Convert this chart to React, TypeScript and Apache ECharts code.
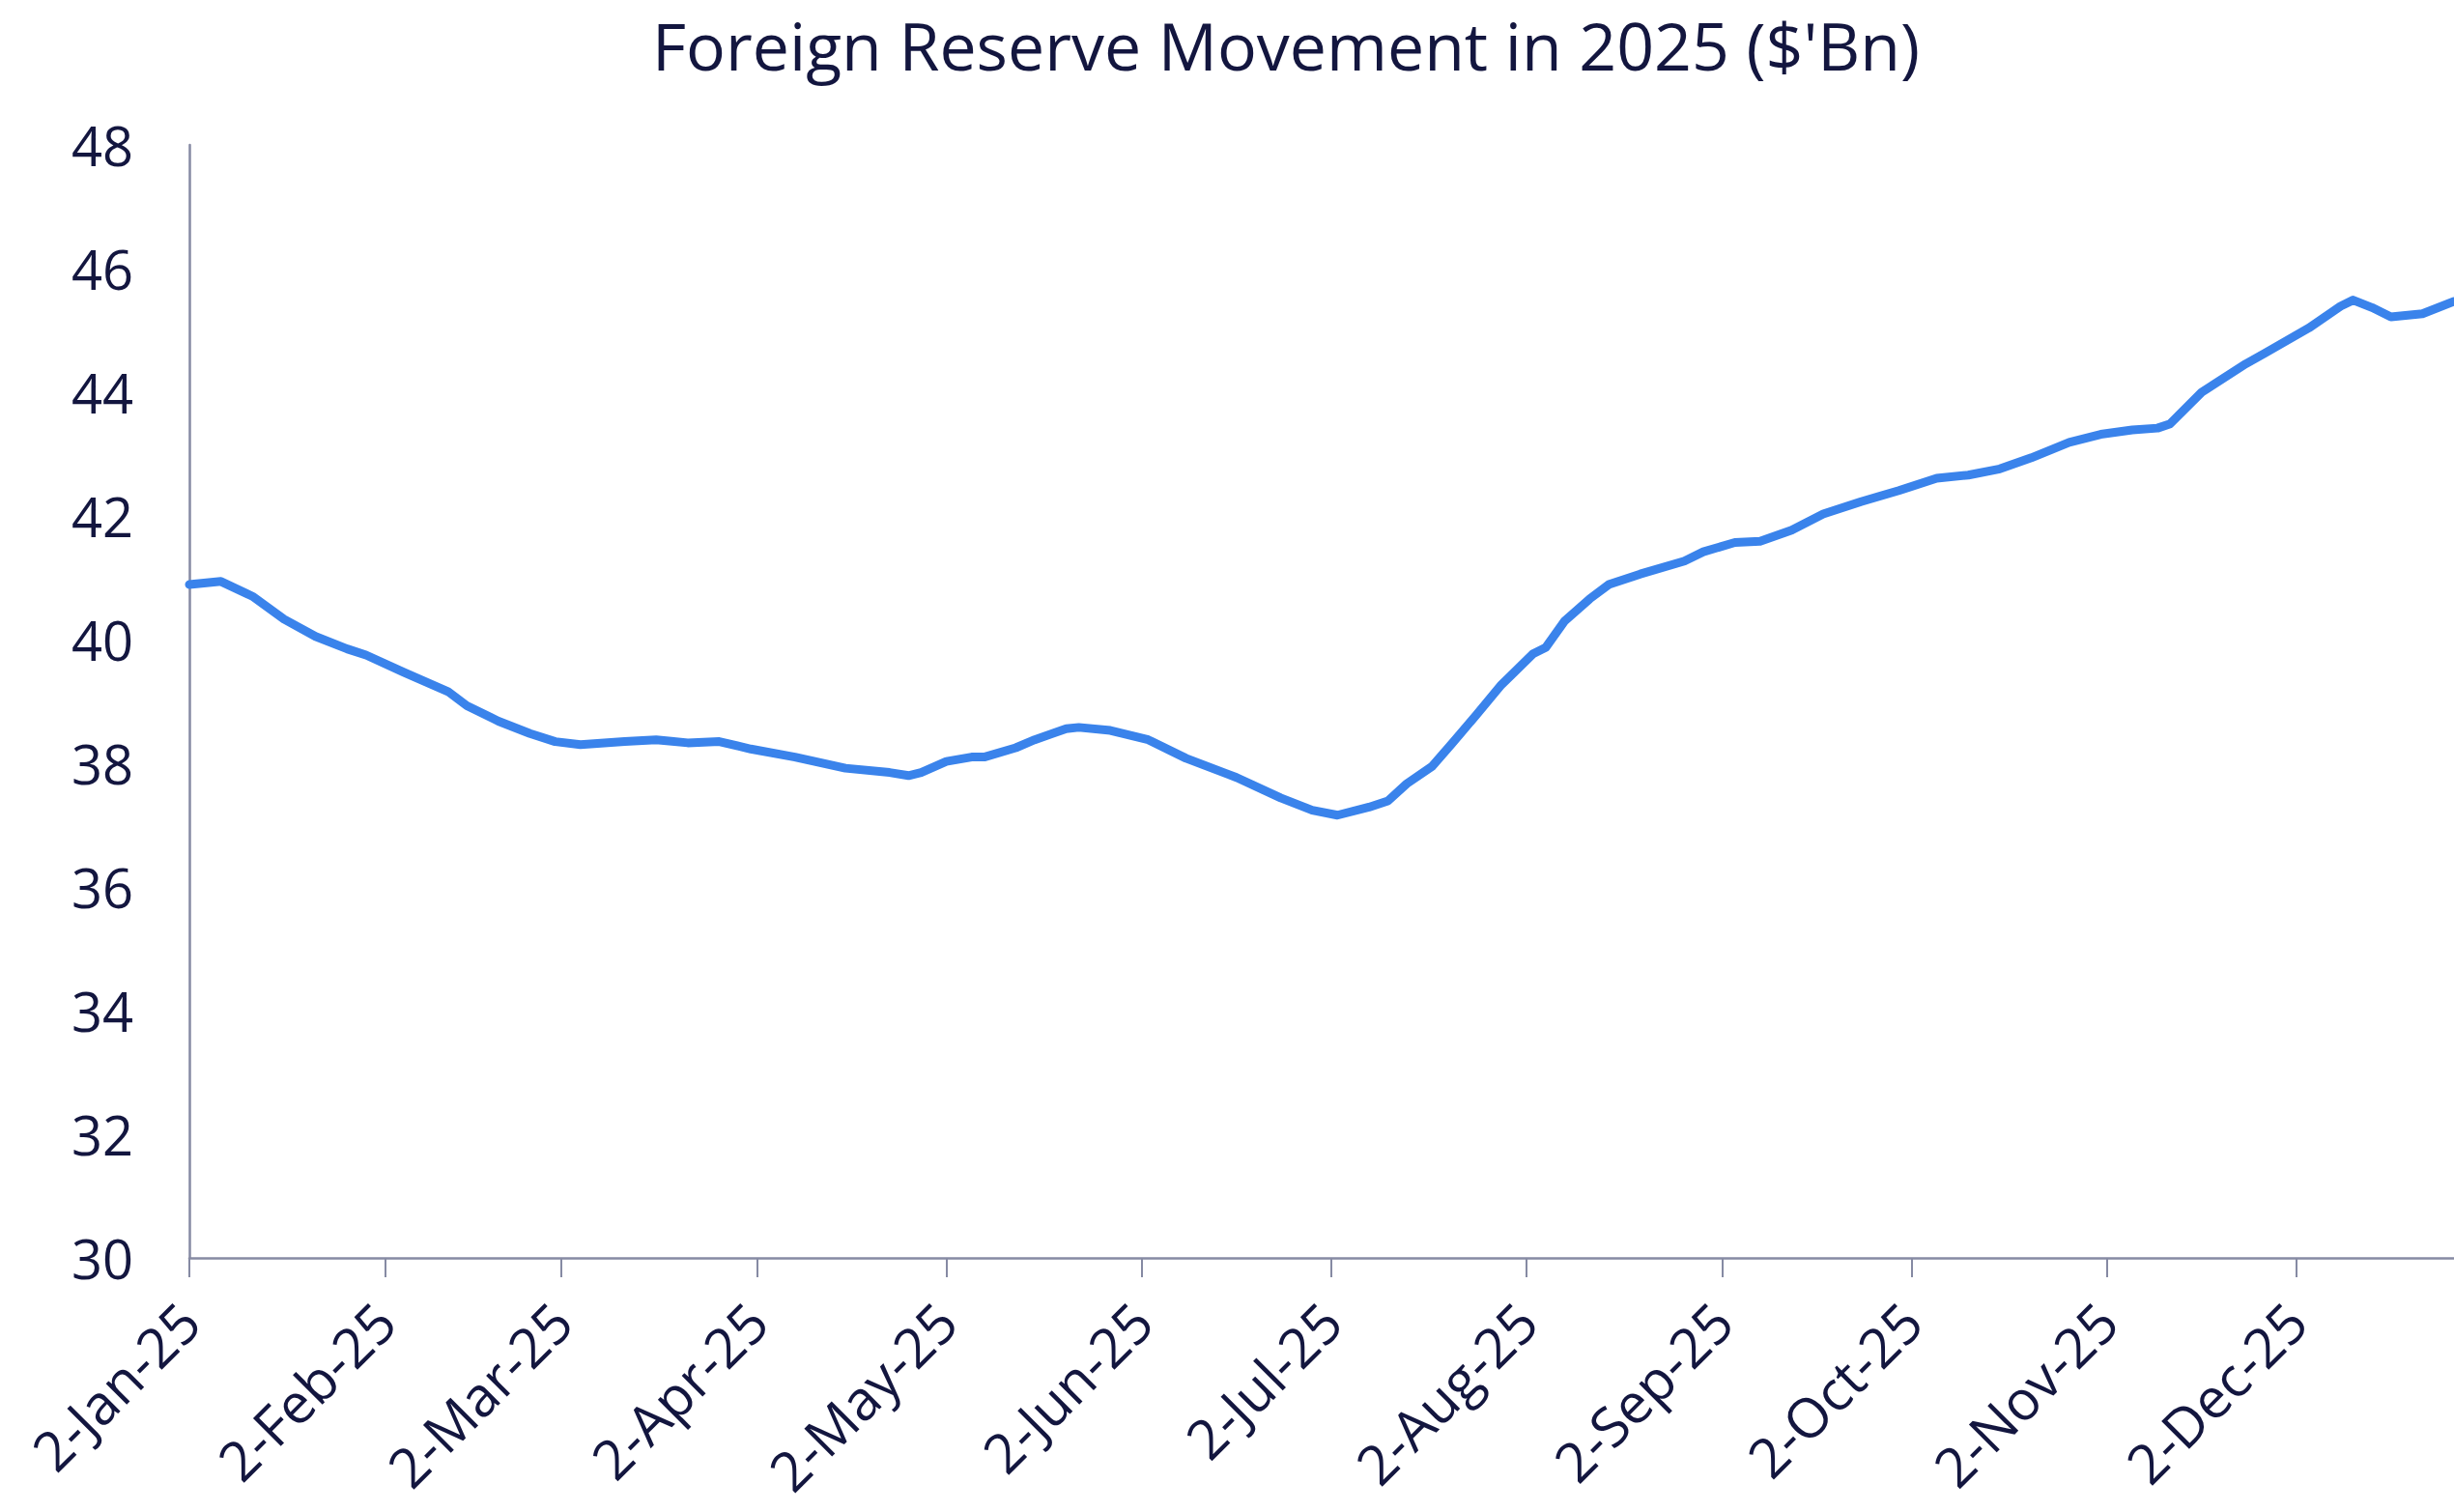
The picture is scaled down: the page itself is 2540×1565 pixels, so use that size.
import React, { useEffect, useRef } from "react";
import * as echarts from "echarts";

const titleText = "Foreign Reserve Movement in 2025 ($'Bn)";

const dates = [
  "2025-01-02", "2025-01-07", "2025-01-12", "2025-01-17", "2025-01-22", "2025-01-27", "2025-01-30",
  "2025-02-05", "2025-02-12", "2025-02-15", "2025-02-20", "2025-02-25", "2025-03-01", "2025-03-05",
  "2025-03-12", "2025-03-17", "2025-03-22", "2025-03-27", "2025-04-01", "2025-04-08", "2025-04-16",
  "2025-04-23", "2025-04-26", "2025-04-28", "2025-05-02", "2025-05-06", "2025-05-08", "2025-05-13",
  "2025-05-16", "2025-05-21", "2025-05-23", "2025-05-28", "2025-06-03", "2025-06-09", "2025-06-17",
  "2025-06-24", "2025-06-29", "2025-07-03", "2025-07-08", "2025-07-11", "2025-07-14", "2025-07-18",
  "2025-07-21", "2025-07-25", "2025-07-29", "2025-07-31", "2025-08-03", "2025-08-05", "2025-08-08",
  "2025-08-12", "2025-08-15", "2025-08-20", "2025-08-27", "2025-08-30", "2025-09-04", "2025-09-08",
  "2025-09-13", "2025-09-18", "2025-09-24", "2025-09-30", "2025-10-06", "2025-10-11", "2025-10-16",
  "2025-10-21", "2025-10-27", "2025-11-01", "2025-11-06", "2025-11-10", "2025-11-12", "2025-11-17",
  "2025-11-24", "2025-11-27", "2025-12-04", "2025-12-09", "2025-12-11", "2025-12-14", "2025-12-17",
  "2025-12-22", "2025-12-27",
];

const reserves = [
  40.89, 40.94, 40.7, 40.33, 40.05, 39.85, 39.75,
  39.47, 39.16, 38.93, 38.68, 38.48, 38.35, 38.3,
  38.35, 38.38, 38.33, 38.35, 38.23, 38.1, 37.92,
  37.85, 37.8, 37.85, 38.03, 38.1, 38.1, 38.25,
  38.38, 38.56, 38.58, 38.53, 38.38, 38.08, 37.77,
  37.44, 37.24, 37.16, 37.29, 37.39, 37.67, 37.95,
  38.3, 38.78, 39.27, 39.47, 39.77, 39.87, 40.3,
  40.66, 40.89, 41.06, 41.27, 41.42, 41.57, 41.59,
  41.77, 42.03, 42.23, 42.41, 42.61, 42.66, 42.76,
  42.94, 43.19, 43.32, 43.39, 43.42, 43.49, 44.0,
  44.46, 44.63, 45.04, 45.39, 45.49, 45.37, 45.22,
  45.27, 45.47,
];

const tickDates = [
  "2025-01-02", "2025-02-02", "2025-03-02", "2025-04-02", "2025-05-02", "2025-06-02",
  "2025-07-02", "2025-08-02", "2025-09-02", "2025-10-02", "2025-11-02", "2025-12-02",
];

const monthNames = ["Jan", "Feb", "Mar", "Apr", "May", "Jun", "Jul", "Aug", "Sep", "Oct", "Nov", "Dec"];

const xStart = "2025-01-02";
const xEnd = "2025-12-27";
const yMin = 30;
const yMax = 48;
const yStep = 2;

const toTs = (d: string) => Date.parse(d + "T00:00:00Z");

const textColor = "#13163F";
const axisColor = "#868AA3";
const lineColor = "#3A83EB";
const fontFamily = "'Open Sans', 'Noto Sans', sans-serif";

export default function App() {
  const ref = useRef<HTMLDivElement>(null);

  useEffect(() => {
    if (!ref.current) return;
    const chart = echarts.init(ref.current, undefined, { renderer: "svg" });
    const data = dates.map((d, i) => [toTs(d), reserves[i]]);
    const ticks = tickDates.map(toTs);
    chart.setOption({
      animation: false,
      backgroundColor: "#ffffff",
      textStyle: { fontFamily },
      graphic: [
        {
          type: "text",
          x: 1331,
          y: 46,
          style: {
            text: titleText,
            fill: textColor,
            font: `68px ${fontFamily}`,
            textAlign: "center",
            textVerticalAlign: "middle",
          },
        },
      ],
      grid: {
        left: 196,
        right: 0,
        top: 150,
        bottom: 263,
        containLabel: false,
        outerBoundsMode: "none",
      },
      xAxis: {
        type: "value",
        min: toTs(xStart),
        max: toTs(xEnd),
        axisLine: { show: true, lineStyle: { color: axisColor, width: 2.5 } },
        axisTick: {
          show: true,
          customValues: ticks,
          length: 20,
          lineStyle: { color: axisColor, width: 2 },
        },
        axisLabel: {
          customValues: ticks,
          rotate: 45,
          margin: 56,
          fontSize: 57,
          fontFamily,
          color: textColor,
          formatter: (v: number) => {
            const d = new Date(v);
            return `${d.getUTCDate()}-${monthNames[d.getUTCMonth()]}-${String(d.getUTCFullYear()).slice(2)}`;
          },
        },
        splitLine: { show: false },
      },
      yAxis: {
        type: "value",
        min: yMin,
        max: yMax,
        interval: yStep,
        axisLine: { show: true, lineStyle: { color: axisColor, width: 2.5 } },
        axisTick: { show: false },
        axisLabel: { fontSize: 56, fontFamily, color: textColor, margin: 58 },
        splitLine: { show: false },
      },
      series: [
        {
          type: "line",
          data,
          showSymbol: false,
          symbol: "none",
          smooth: false,
          lineStyle: { color: lineColor, width: 9, cap: "round", join: "round" },
        },
      ],
    });
    return () => chart.dispose();
  }, []);

  return (
    <div
      ref={ref}
      style={{ position: "fixed", left: 0, top: 0, width: 2540, height: 1565, background: "#fff" }}
    />
  );
}
